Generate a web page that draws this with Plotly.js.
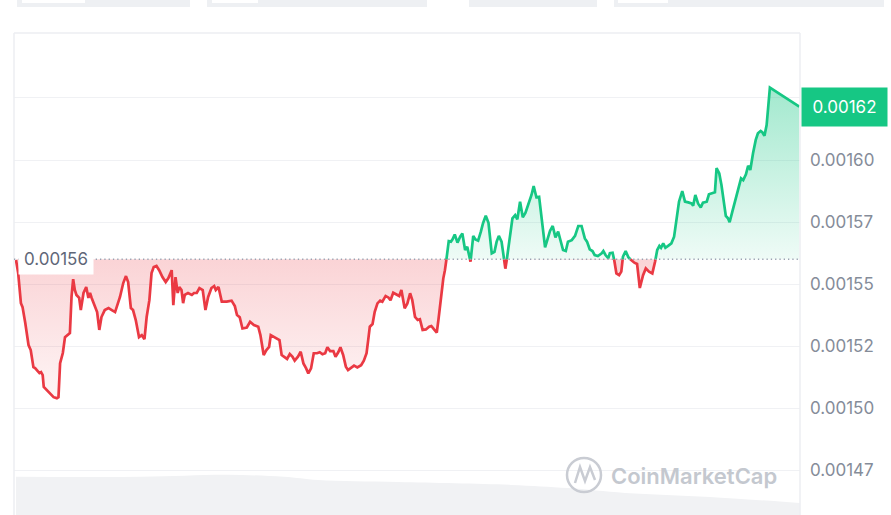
<!DOCTYPE html>
<html>
<head>
<meta charset="utf-8">
<script src="https://cdn.plot.ly/plotly-3.0.1.min.js"></script>
<style>
  html, body { margin: 0; padding: 0; background: #ffffff; }
  #chart { width: 891px; height: 515px; }
</style>
</head>
<body>
<div id="chart"></div>
<script>
// minutes since start of the 24h window
const minutes = [
  0,4,9,12,17,23,27,32,35,39,
  43,46,49,51,59,69,75,78,81,86,
  90,94,99,102,105,108,111,116,119,124,
  129,133,136,139,145,149,153,157,163,170,
  176,182,191,197,202,206,211,215,220,226,
  231,236,240,245,249,253,258,263,269,275,
  280,286,289,293,297,300,304,307,310,316,
  323,327,332,337,343,348,353,359,364,367,
  372,378,387,396,402,406,411,416,424,430,
  437,445,449,455,460,465,468,476,484,488,
  494,498,503,508,512,518,523,528,533,537,
  542,547,553,558,563,568,572,577,583,587,
  592,596,601,606,610,617,621,627,634,639,
  644,647,650,655,659,664,669,673,679,684,
  688,693,699,704,708,714,719,724,728,733,
  738,742,747,753,759,763,768,773,776,780,
  785,788,791,795,799,802,806,811,816,820,
  825,829,835,840,844,849,854,858,863,868,
  874,879,883,887,892,896,899,902,907,912,
  917,921,926,931,936,942,947,951,956,961,
  964,968,972,976,981,986,991,996,1000,1005,
  1010,1014,1021,1027,1033,1039,1045,1049,1054,1059,
  1063,1069,1076,1079,1083,1088,1091,1096,1099,1103,
  1108,1112,1115,1120,1125,1131,1136,1141,1143,1146,
  1152,1157,1163,1169,1174,1178,1182,1185,1189,1193,
  1198,1204,1209,1214,1218,1224,1229,1235,1241,1244,
  1248,1253,1258,1262,1269,1273,1280,1284,1287,1292,
  1296,1300,1304,1308,1311,1316,1321,1327,1332,1336,
  1341,1345,1349,1354,1359,1363,1368,1371,1375,1379,
  1382,1385,1439
];

const prices = [
  0.0015597,0.0015544,0.0015423,0.0015407,0.0015343,0.0015254,0.0015234,0.0015165,0.0015161,0.0015153,
  0.0015141,0.0015145,0.0015133,0.0015085,0.0015065,0.0015044,0.0015040,0.0015044,0.0015181,0.0015222,
  0.0015286,0.0015294,0.0015302,0.0015448,0.0015520,0.0015476,0.0015456,0.0015444,0.0015395,0.0015464,
  0.0015488,0.0015444,0.0015464,0.0015444,0.0015407,0.0015387,0.0015315,0.0015367,0.0015395,0.0015403,
  0.0015395,0.0015387,0.0015448,0.0015504,0.0015532,0.0015508,0.0015403,0.0015395,0.0015355,0.0015286,
  0.0015294,0.0015278,0.0015367,0.0015435,0.0015544,0.0015569,0.0015573,0.0015556,0.0015528,0.0015508,
  0.0015524,0.0015556,0.0015415,0.0015528,0.0015464,0.0015488,0.0015476,0.0015423,0.0015456,0.0015464,
  0.0015456,0.0015464,0.0015464,0.0015484,0.0015476,0.0015395,0.0015448,0.0015484,0.0015492,0.0015476,
  0.0015488,0.0015429,0.0015429,0.0015433,0.0015411,0.0015375,0.0015366,0.0015321,0.0015325,0.0015348,
  0.0015335,0.0015328,0.0015294,0.0015214,0.0015234,0.0015247,0.0015294,0.0015285,0.0015274,0.0015214,
  0.0015204,0.0015198,0.0015218,0.0015207,0.0015191,0.0015207,0.0015227,0.0015180,0.0015160,0.0015140,
  0.0015160,0.0015221,0.0015221,0.0015225,0.0015217,0.0015221,0.0015245,0.0015230,0.0015230,0.0015207,
  0.0015225,0.0015245,0.0015214,0.0015167,0.0015153,0.0015164,0.0015171,0.0015164,0.0015173,0.0015191,
  0.0015221,0.0015274,0.0015328,0.0015339,0.0015388,0.0015422,0.0015433,0.0015429,0.0015452,0.0015446,
  0.0015435,0.0015465,0.0015456,0.0015452,0.0015476,0.0015402,0.0015422,0.0015463,0.0015435,0.0015368,
  0.0015355,0.0015358,0.0015315,0.0015317,0.0015328,0.0015331,0.0015317,0.0015304,0.0015355,0.0015442,
  0.0015523,0.0015556,0.0015604,0.0015673,0.0015671,0.0015680,0.0015700,0.0015667,0.0015691,0.0015704,
  0.0015637,0.0015650,0.0015590,0.0015694,0.0015680,0.0015675,0.0015711,0.0015745,0.0015775,0.0015747,
  0.0015624,0.0015630,0.0015671,0.0015694,0.0015671,0.0015610,0.0015562,0.0015604,0.0015691,0.0015765,
  0.0015778,0.0015761,0.0015832,0.0015769,0.0015788,0.0015825,0.0015859,0.0015895,0.0015850,0.0015852,
  0.0015792,0.0015711,0.0015648,0.0015677,0.0015714,0.0015734,0.0015688,0.0015711,0.0015677,0.0015637,
  0.0015633,0.0015671,0.0015677,0.0015694,0.0015734,0.0015734,0.0015684,0.0015671,0.0015640,0.0015633,
  0.0015617,0.0015613,0.0015624,0.0015633,0.0015617,0.0015604,0.0015624,0.0015626,0.0015597,0.0015543,
  0.0015536,0.0015550,0.0015610,0.0015633,0.0015608,0.0015594,0.0015586,0.0015581,0.0015529,0.0015484,
  0.0015536,0.0015563,0.0015550,0.0015543,0.0015590,0.0015637,0.0015654,0.0015646,0.0015664,0.0015646,
  0.0015654,0.0015664,0.0015691,0.0015778,0.0015832,0.0015875,0.0015832,0.0015829,0.0015825,0.0015816,
  0.0015859,0.0015825,0.0015809,0.0015828,0.0015832,0.0015862,0.0015866,0.0015870,0.0015967,0.0015946,
  0.0015899,0.0015832,0.0015775,0.0015765,0.0015749,0.0015792,0.0015832,0.0015879,0.0015926,0.0015919,
  0.0015942,0.0015977,0.0015960,0.0016027,0.0016081,0.0016108,0.0016117,0.0016112,0.0016098,0.0016141,
  0.0016222,0.0016292,0.0016215
];

// opening price (reference line)
const openPrice = 0.00156;
const openLabel = "0.00156";
const lastLabel = "0.00162";

// volume strip at the bottom
const volMinutes = [0, 231, 388, 492, 555, 702, 909, 1014, 1119, 1275, 1440];
const volValues  = [0.95, 0.95, 1.0, 0.95, 0.87, 0.82, 0.75, 0.67, 0.55, 0.45, 0.30];

// y-axis ticks
const tickVals  = [0.001475, 0.0015, 0.001525, 0.00155, 0.001575, 0.0016, 0.001625];
const tickTexts = ["0.00147", "0.00150", "0.00152", "0.00155", "0.00157", "0.00160", ""];

const GREEN = "#16c784", RED = "#ea3943";

// split the series at the opening price (crossings interpolated from the data)
const xs = [], ups = [], dns = [], gLine = [], rLine = [], baseArr = [];
function pushPt(x, p) {
  xs.push(x);
  ups.push(Math.max(p, openPrice));
  dns.push(Math.min(p, openPrice));
  gLine.push(p >= openPrice ? p : null);
  rLine.push(p <= openPrice ? p : null);
  baseArr.push(openPrice);
}
for (let i = 0; i < prices.length; i++) {
  pushPt(minutes[i], prices[i]);
  if (i < prices.length - 1) {
    const a = prices[i] - openPrice, b = prices[i + 1] - openPrice;
    if (a * b < 0) {
      const f = a / (a - b);
      pushPt(minutes[i] + f * (minutes[i + 1] - minutes[i]), openPrice);
    }
  }
}

const traces = [
  { x: volMinutes, y: volValues, yaxis: "y2", type: "scatter", mode: "lines",
    line: { width: 0, shape: "spline" }, fill: "tozeroy", fillcolor: "#f1f2f4",
    hoverinfo: "skip", showlegend: false },
  { x: xs, y: baseArr, type: "scatter", mode: "lines", line: { width: 0 },
    hoverinfo: "skip", showlegend: false },
  { x: xs, y: ups, type: "scatter", mode: "lines", line: { width: 0 }, fill: "tonexty",
    fillgradient: { type: "vertical", start: openPrice, stop: 0.00163,
      colorscale: [[0, "rgba(22,199,132,0.07)"], [1, "rgba(22,199,132,0.40)"]] },
    hoverinfo: "skip", showlegend: false },
  { x: xs, y: baseArr, type: "scatter", mode: "lines", line: { width: 0 },
    hoverinfo: "skip", showlegend: false },
  { x: xs, y: dns, type: "scatter", mode: "lines", line: { width: 0 }, fill: "tonexty",
    fillgradient: { type: "vertical", start: 0.00150, stop: openPrice,
      colorscale: [[0, "rgba(234,57,67,0.04)"], [1, "rgba(234,57,67,0.22)"]] },
    hoverinfo: "skip", showlegend: false },
  { x: xs, y: rLine, type: "scatter", mode: "lines", connectgaps: false,
    line: { color: RED, width: 2.7 }, showlegend: false },
  { x: xs, y: gLine, type: "scatter", mode: "lines", connectgaps: false,
    line: { color: GREEN, width: 2.7 }, showlegend: false }
];

const px = x => (x - 14) / 786;      // paper helpers for decorations
const py = y => (515 - y) / 482;
const FRAME = "#eceef2";

const layout = {
  width: 891, height: 515,
  margin: { l: 14, r: 91, t: 33, b: 0 },
  paper_bgcolor: "#ffffff", plot_bgcolor: "#ffffff",
  font: { family: "Inter, 'Noto Sans', sans-serif", size: 17, color: "#808a9d" },
  showlegend: false,
  xaxis: { range: [-3.7, 1440.3], showgrid: false, zeroline: false,
    showticklabels: false, ticks: "", fixedrange: true },
  yaxis: { side: "right", range: [0.0014569, 0.0016512],
    tickvals: tickVals, ticktext: tickTexts,
    showgrid: true, gridcolor: "#f0f1f4", gridwidth: 1, zeroline: false,
    ticks: "", ticklabelstandoff: 9,
    tickfont: { size: 17, color: "#858c99", family: "Inter, sans-serif" } },
  yaxis2: { overlaying: "y", range: [0, 12], visible: false },
  shapes: [
    // frame
    { type: "line", xref: "paper", yref: "paper", x0: 0, x1: 1, y0: 1, y1: 1, line: { color: FRAME, width: 1.5 } },
    { type: "line", xref: "paper", yref: "paper", x0: 0, x1: 0, y0: 0, y1: 1, line: { color: FRAME, width: 1.5 } },
    { type: "line", xref: "paper", yref: "paper", x0: 1, x1: 1, y0: 0, y1: 1, line: { color: FRAME, width: 1.5 } },
    // opening price dotted line
    { type: "line", xref: "paper", yref: "y", x0: 0, x1: 1, y0: openPrice, y1: openPrice,
      line: { color: "#9aa2b1", width: 1.3, dash: "1.3px,3px" }, layer: "above" },
    // top tabs (cut off)
    { type: "rect", xref: "paper", yref: "paper", x0: px(17), x1: px(190), y0: py(7), y1: py(-8), fillcolor: "#eef0f3", line: { width: 0 } },
    { type: "rect", xref: "paper", yref: "paper", x0: px(22), x1: px(85), y0: py(3), y1: py(-8), fillcolor: "#ffffff", line: { width: 0 } },
    { type: "rect", xref: "paper", yref: "paper", x0: px(207), x1: px(427), y0: py(7), y1: py(-8), fillcolor: "#eef0f3", line: { width: 0 } },
    { type: "rect", xref: "paper", yref: "paper", x0: px(212), x1: px(258), y0: py(3), y1: py(-8), fillcolor: "#ffffff", line: { width: 0 } },
    { type: "rect", xref: "paper", yref: "paper", x0: px(469), x1: px(597), y0: py(7), y1: py(-8), fillcolor: "#eef0f3", line: { width: 0 } },
    { type: "rect", xref: "paper", yref: "paper", x0: px(614), x1: px(884), y0: py(7), y1: py(-8), fillcolor: "#eef0f3", line: { width: 0 } },
    { type: "rect", xref: "paper", yref: "paper", x0: px(618), x1: px(668), y0: py(3), y1: py(-8), fillcolor: "#ffffff", line: { width: 0 } },
    // watermark logo
    { type: "circle", xref: "paper", yref: "paper", x0: px(567), x1: px(601), y0: py(492), y1: py(458),
      line: { color: "#c9ccd3", width: 2.5 }, layer: "above" },
    { type: "path", xref: "paper", yref: "paper",
      path: "M " + px(575) + " " + py(483) + " L " + px(580) + " " + py(467) + " L " + px(585) + " " + py(481) +
            " L " + px(590) + " " + py(467) + " L " + px(595) + " " + py(480),
      line: { color: "#c9ccd3", width: 2.5 }, layer: "above" }
  ],
  annotations: [
    { xref: "paper", yref: "y", x: px(18), y: openPrice, xanchor: "left", yanchor: "middle",
      text: openLabel, showarrow: false, bgcolor: "#ffffff", borderpad: 5,
      font: { size: 17, color: "#5f6778", family: "Inter, sans-serif" } },
    { xref: "paper", yref: "y", x: 1, xshift: 1, y: prices[prices.length - 1], xanchor: "left", yanchor: "middle",
      text: lastLabel, showarrow: false, bgcolor: GREEN, borderpad: 2, width: 81, height: 34,
      font: { size: 17, color: "#ffffff", family: "Inter, sans-serif" } },
    { xref: "paper", yref: "paper", x: px(694), y: py(476), xanchor: "center", yanchor: "middle",
      text: "CoinMarketCap", showarrow: false,
      font: { size: 22, color: "#c4c8cf", family: "Inter, sans-serif", weight: 600 } }
  ]
};

Plotly.newPlot("chart", traces, layout, { displayModeBar: false, staticPlot: true });
</script>
</body>
</html>
